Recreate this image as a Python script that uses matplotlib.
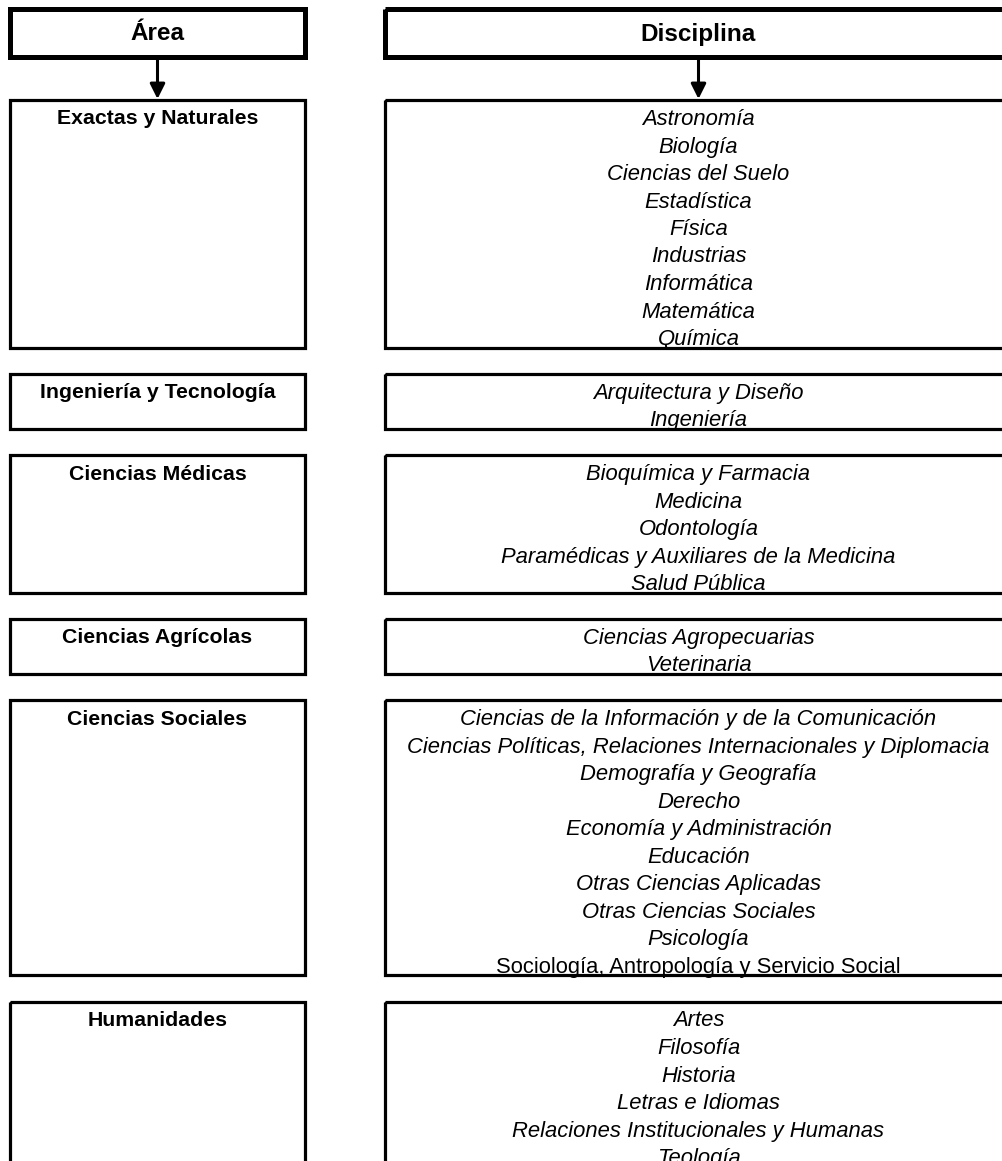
import matplotlib.pyplot as plt
from matplotlib.patches import Rectangle

# --- datos del cuadro ---
areas = ["Exactas y Naturales", "Ingeniería y Tecnología", "Ciencias Médicas",
         "Ciencias Agrícolas", "Ciencias Sociales", "Humanidades"]

exactas = ["Astronomía", "Biología", "Ciencias del Suelo", "Estadística", "Física",
           "Industrias", "Informática", "Matemática", "Química"]
ingenieria = ["Arquitectura y Diseño", "Ingeniería"]
medicas = ["Bioquímica y Farmacia", "Medicina", "Odontología",
           "Paramédicas y Auxiliares de la Medicina", "Salud Pública"]
agricolas = ["Ciencias Agropecuarias", "Veterinaria"]
sociales = ["Ciencias de la Información y de la Comunicación",
            "Ciencias Políticas, Relaciones Internacionales y Diplomacia",
            "Demografía y Geografía", "Derecho", "Economía y Administración",
            "Educación", "Otras Ciencias Aplicadas", "Otras Ciencias Sociales",
            "Psicología", "Sociología, Antropología y Servicio Social"]
humanidades = ["Artes", "Filosofía", "Historia", "Letras e Idiomas",
               "Relaciones Institucionales y Humanas", "Teología"]
disciplinas = [exactas, ingenieria, medicas, agricolas, sociales, humanidades]

# lineas que no van en cursiva
no_cursiva = ["Sociología, Antropología y Servicio Social"]

# --- geometria (pixeles) ---
W, H = 1002, 1161
LINE = 27.5
GAP = 26.3
LX0, LX1 = 10, 305
RX0, RX1 = 385, 1012

plt.rcParams['font.family'] = ['Liberation Sans', 'DejaVu Sans']
fig = plt.figure(figsize=(W / 100, H / 100), dpi=100)
ax = fig.add_axes([0, 0, 1, 1])
ax.set_xlim(0, W)
ax.set_ylim(H, 0)
ax.axis('off')

# encabezados
for x0, x1, titulo in [(LX0, LX1, "Área"), (RX0, RX1, "Disciplina")]:
    ax.add_patch(Rectangle((x0, 9), x1 - x0, 48, fill=False, ec='black', lw=3.6, zorder=3))
    ax.text((x0 + x1) / 2, 34, titulo, ha='center', va='center',
            fontsize=17.5, fontweight='bold')
    ax.annotate("", xy=((x0 + x1) / 2, 99), xytext=((x0 + x1) / 2, 60),
                arrowprops=dict(arrowstyle='-|>,head_length=0.9,head_width=0.45',
                                lw=2.2, color='black', shrinkA=0, shrinkB=0))

# cajas de area y disciplina
y = 100
for area, lista in zip(areas, disciplinas):
    h = len(lista) * LINE
    ax.add_patch(Rectangle((LX0, y), LX1 - LX0, h, fill=False, ec='black', lw=2.3, zorder=3))
    ax.add_patch(Rectangle((RX0, y), RX1 - RX0, h, fill=False, ec='black', lw=2.3, zorder=3))
    ax.text((LX0 + LX1) / 2, y + 19, area, ha='center', va='center',
            fontsize=15.3, fontweight='bold')
    for i, d in enumerate(lista):
        estilo = 'normal' if d in no_cursiva else 'italic'
        ax.text((RX0 + RX1) / 2, y + 19.5 + i * LINE, d, ha='center', va='center',
                fontsize=15.8, fontstyle=estilo)
    y += h + GAP

fig.savefig("out.png", dpi=100, facecolor='white')
